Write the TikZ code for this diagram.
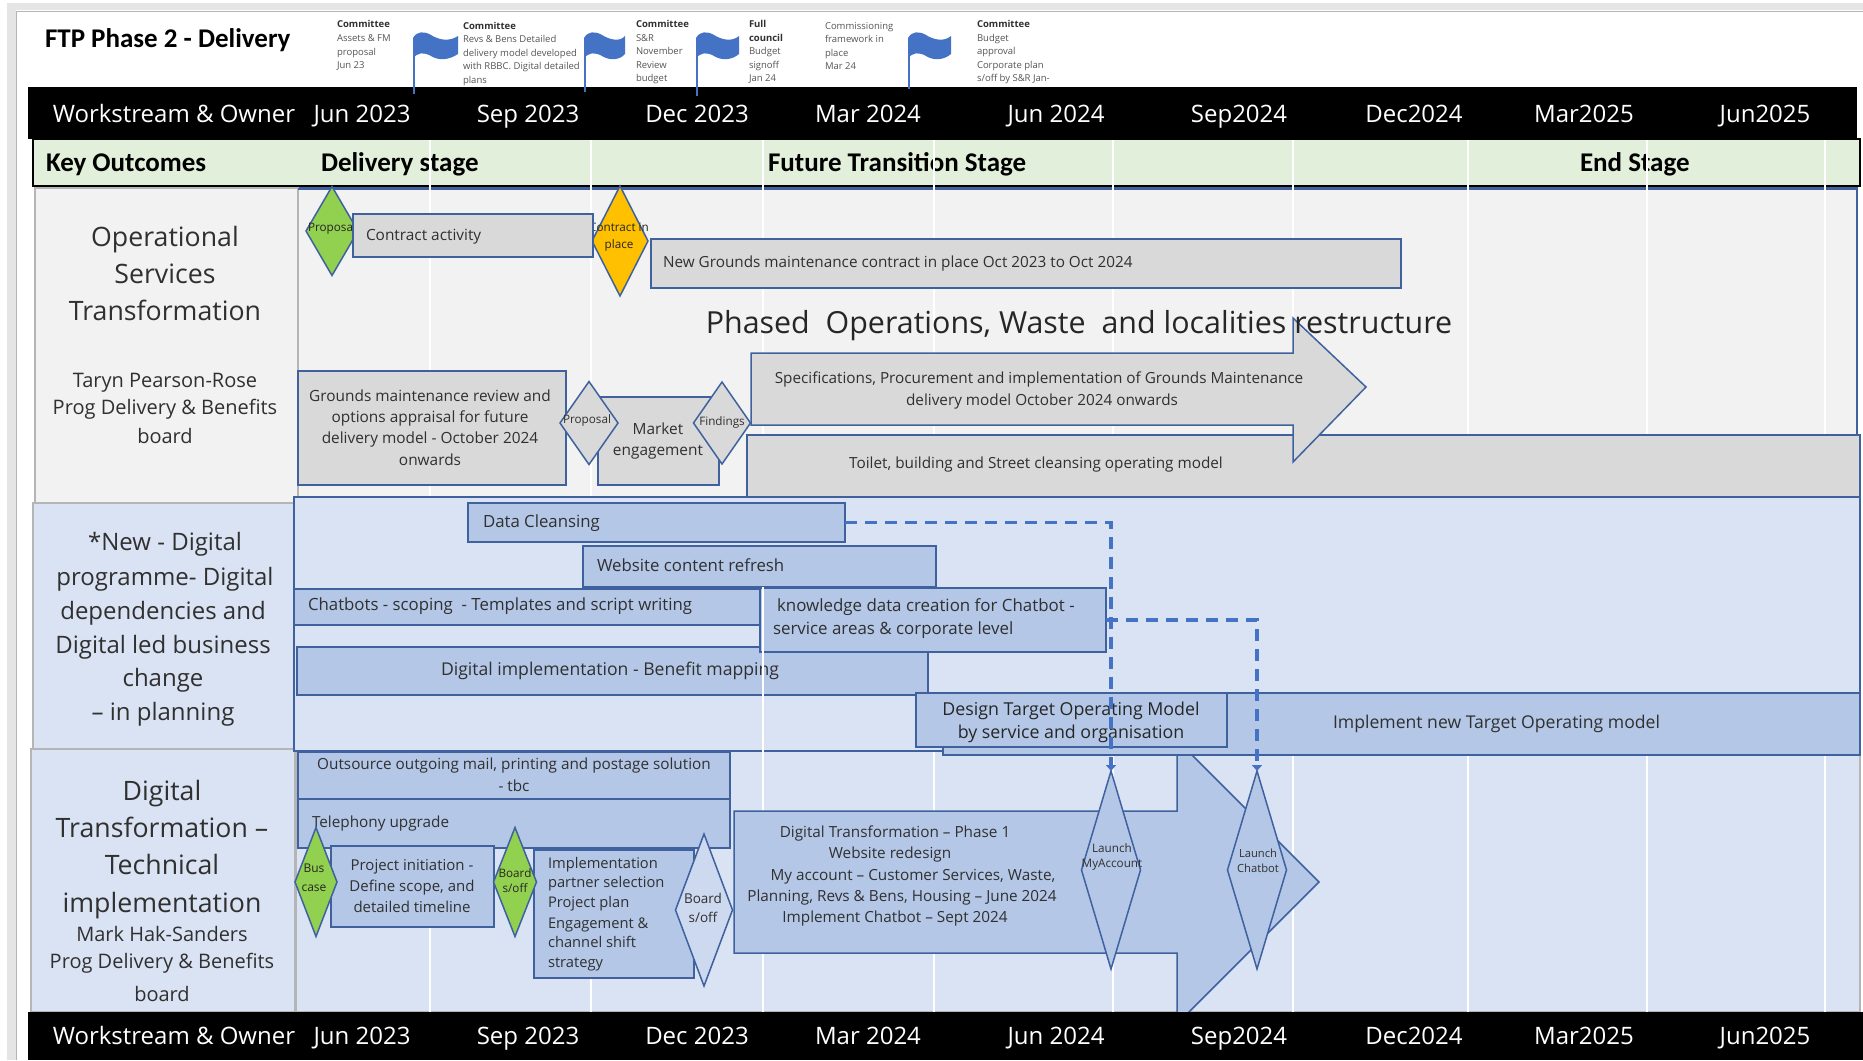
\documentclass[tikz,border=0pt]{standalone}
\usepackage{fontspec}
\setmainfont{Open Sans}
\newfontfamily\calfont{Carlito}
\usetikzlibrary{shapes.geometric,arrows.meta,calc}
\definecolor{edgeblue}{HTML}{3F629F}
\definecolor{boxblue}{HTML}{B4C7E7}
\definecolor{paleblue}{HTML}{DAE3F3}
\definecolor{boxgrey}{HTML}{D9D9D9}
\definecolor{palegrey}{HTML}{F2F2F2}
\definecolor{bandgreen}{HTML}{E2EFDA}
\definecolor{leafgreen}{HTML}{92D050}
\definecolor{amber}{HTML}{FFC000}
\definecolor{flagblue}{HTML}{4472C4}
\definecolor{inktext}{HTML}{303030}
\definecolor{notetext}{HTML}{555555}
\definecolor{cellline}{HTML}{B5B5B5}
\newcount\txn
\newcommand{\fs}[1]{\fontsize{#1}{#1}\selectfont}
% centred text: x,y,size,text
\newcommand{\tc}[4]{\global\advance\txn by 1 \node[txt,anchor=base] (t\the\txn) at (#1,{#2+0.34*#3}) {\fs{#3}#4};}
% left aligned text
\newcommand{\tl}[4]{\global\advance\txn by 1 \node[txt,anchor=base west] (t\the\txn) at (#1,{#2+0.34*#3}) {\fs{#3}#4};}
% box: name,x1,y1,x2,y2,style
\newcommand{\bx}[6]{\node[#6,anchor=north west,minimum width={(#4)*1pt-(#2)*1pt},minimum height={(#5)*1pt-(#3)*1pt}] (#1) at (#2,#3) {};}
% diamond: name,cx,cy,w,h,fill
\newcommand{\dm}[6]{\node[gem,fill=#6,minimum width=#4pt,minimum height=#5pt] (#1) at (#2,#3) {};}
% flag: pole x, pole bottom y, top offset
\newcommand{\flagat}[3]{%
\draw[flagblue,line width=1.3pt] (#1,38) -- (#1,#2);
\fill[flagblue] (#1-1,38) .. controls (#1+3,31) and (#1+10,31) .. (#1+17,35)
  .. controls (#1+25,40) and (#1+35,42) .. (#1+#3,36) -- (#1+#3,54)
  .. controls (#1+35,60) and (#1+25,61) .. (#1+17,56)
  .. controls (#1+10,52) and (#1+3,52) .. (#1-1,59) -- cycle;}
\tikzset{
 x=1pt,y=-1pt,
 txt/.style={inner sep=0pt,outer sep=0pt,text=inktext,align=center},
 box/.style={draw=edgeblue,line width=1.5pt,fill=boxblue,inner sep=0pt,outer sep=0pt,rectangle},
 gbox/.style={box,fill=boxgrey},
 panel/.style={rectangle,draw=edgeblue,line width=1.3pt,inner sep=0pt,outer sep=0pt},
 cell/.style={rectangle,draw=cellline,line width=1.5pt,inner sep=0pt,outer sep=0pt},
 gem/.style={diamond,draw=edgeblue,line width=1.5pt,inner sep=0pt,outer sep=0pt,aspect=1},
 gridl/.style={draw=white,line width=1.5pt},
 dep/.style={draw=flagblue,line width=3.2pt,dash pattern=on 12pt off 8pt,-{Triangle[width=10pt,length=6pt]}},
 band/.style={rectangle,fill=black,inner sep=0pt,outer sep=0pt},
}
\begin{document}
\begin{tikzpicture}
\useasboundingbox (0,0) rectangle (1863,1060);
\fill[white] (0,0) rectangle (1863,1060);
% window chrome
\fill[black!10] (14,3) rectangle (1863,10);
\fill[black!10] (7,3) rectangle (16,1060);
\draw[cellline,line width=1pt] (16,11) -- (1863,11);
\draw[cellline,line width=1pt] (16,11) -- (16,1060);
% row panels
\bx{panelA}{298}{188}{1857}{497}{panel,fill=palegrey}
\bx{cellA}{35}{188}{298}{503}{cell,fill=palegrey}
\bx{cellC}{31}{749}{295}{1012}{cell,fill=paleblue}
\bx{panelC}{296}{751}{1860}{1012}{cell,fill=paleblue}
% title
\tl{45}{38}{27}{\calfont\bfseries\color{black} FTP Phase 2 - Delivery}
% committee notes
\tl{337}{24}{9.5}{\bfseries Committee}
\tl{337}{38}{9.5}{\color{notetext}Assets \& FM}
\tl{337}{52}{9.5}{\color{notetext}proposal}
\tl{337}{65}{9.5}{\color{notetext}Jun 23}
\tl{463}{26}{9.5}{\bfseries Committee}
\tl{463}{39}{9.5}{\color{notetext}Revs \& Bens Detailed}
\tl{463}{53}{9.5}{\color{notetext}delivery model developed}
\tl{463}{66}{9.5}{\color{notetext}with RBBC. Digital detailed}
\tl{463}{80}{9.5}{\color{notetext}plans}
\tl{636}{24}{9.5}{\bfseries Committee}
\tl{636}{38}{9.5}{\color{notetext}S\&R}
\tl{636}{51}{9.5}{\color{notetext}November}
\tl{636}{65}{9.5}{\color{notetext}Review}
\tl{636}{78}{9.5}{\color{notetext}budget}
\tl{749}{24}{9.5}{\bfseries Full}
\tl{749}{38}{9.5}{\bfseries council}
\tl{749}{51}{9.5}{\color{notetext}Budget}
\tl{749}{65}{9.5}{\color{notetext}signoff}
\tl{749}{78}{9.5}{\color{notetext}Jan 24}
\tl{825}{26}{9.5}{\color{notetext}Commissioning}
\tl{825}{39}{9.5}{\color{notetext}framework in}
\tl{825}{53}{9.5}{\color{notetext}place}
\tl{825}{66}{9.5}{\color{notetext}Mar 24}
\tl{977}{24}{9.5}{\bfseries Committee}
\tl{977}{38}{9.5}{\color{notetext}Budget}
\tl{977}{51}{9.5}{\color{notetext}approval}
\tl{977}{65}{9.5}{\color{notetext}Corporate plan}
\tl{977}{78}{9.5}{\color{notetext}s/off by S\&R Jan-}
% top black band
\bx{topband}{28}{87}{1857}{139}{band}
% flags
\flagat{414}{94}{44}
\flagat{585}{92}{40}
\flagat{697}{96}{42}
\flagat{909}{89}{42}
% green band
\bx{greenband}{33}{139}{1860}{186}{rectangle,draw=black,line width=1.6pt,fill=bandgreen,inner sep=0pt,outer sep=0pt}
\draw[edgeblue,line width=1.4pt] (298,189) -- (1857,189);
\tl{46}{162}{27}{\calfont\bfseries\color{black} Key Outcomes}
\tl{321}{162}{27}{\calfont\bfseries\color{black} Delivery stage}
\tl{768}{162}{27}{\calfont\bfseries\color{black} Future Transition Stage}
\tl{1580}{162}{27}{\calfont\bfseries\color{black} End Stage}
% grid
\foreach \gx in {430,591,763,934,1113,1293,1468,1647,1825}{\draw[gridl] (\gx,140) -- (\gx,1012);}
% digital row
\bx{cellB}{33}{503}{294}{749}{cell,fill=paleblue}
\bx{panelB}{294}{497}{1860}{751}{panel,fill=paleblue}
% header labels
\tc{174}{114}{24}{\color{white}Workstream \& Owner}
\tc{362}{114}{24}{\color{white}Jun 2023}
\tc{528}{114}{24}{\color{white}Sep 2023}
\tc{697}{114}{24}{\color{white}Dec 2023}
\tc{868}{114}{24}{\color{white}Mar 2024}
\tc{1056}{114}{24}{\color{white}Jun 2024}
\tc{1239}{114}{24}{\color{white}Sep2024}
\tc{1414}{114}{24}{\color{white}Dec2024}
\tc{1584}{114}{24}{\color{white}Mar2025}
\tc{1765}{114}{24}{\color{white}Jun2025}
% left cell text
\tc{165}{237}{26.7}{Operational}
\tc{165}{274}{26.7}{Services}
\tc{165}{311}{26.7}{Transformation}
\tc{165}{381}{20}{Taryn Pearson-Rose}
\tc{165}{408}{20}{Prog Delivery \& Benefits}
\tc{165}{437}{20}{board}
\tc{165}{542}{24}{*New - Digital}
\tc{165}{577}{24}{programme- Digital}
\tc{163}{611}{24}{dependencies and}
\tc{163}{645}{24}{Digital led business}
\tc{163}{678}{24}{change}
\tc{163}{712}{24}{– in planning}
\tc{162}{791}{26.7}{Digital}
\tc{162}{828}{26.7}{Transformation –}
\tc{162}{865}{26.7}{Technical}
\tc{162}{903}{26.7}{implementation}
\tc{162}{935}{20}{Mark Hak-Sanders}
\tc{162}{962}{20}{Prog Delivery \& Benefits}
\tc{162}{995}{20}{board}
% operational row
\dm{propA}{332}{231}{52}{89}{leafgreen}
\tc{332}{228}{11.7}{\color{black!85}Proposal}
\dm{place}{620}{241}{56}{110}{amber}
\tc{619}{228}{11.7}{\color{black!85}Contract in}
\tc{619}{245}{11.7}{\color{black!85}place}
\bx{contract}{353}{214}{593}{257}{gbox}
\tl{366}{235}{15.4}{Contract activity}
\bx{newgm}{651}{239}{1401}{288}{gbox}
\tl{663}{262}{15.3}{New Grounds maintenance contract in place Oct 2023 to Oct 2024}
\bx{toilet}{747}{435}{1860}{497}{gbox}
\tc{1036}{463}{15.3}{Toilet, building and Street cleansing operating model}
\path[draw=edgeblue,line width=1.5pt,fill=boxgrey] (751,353) -- (1293,353) -- (1293,318) -- (1366,387) -- (1293,462) -- (1293,425) -- (751,425) -- cycle;
\tc{1039}{378}{15.3}{Specifications, Procurement and implementation of Grounds Maintenance}
\tc{1042}{400}{15.3}{delivery model October 2024 onwards}
\tc{1079}{323}{30.4}{\color{black!85}Phased\ \ Operations, Waste\ \ and localities restructure}
\bx{review}{298}{371}{566}{485}{gbox}
\tc{430}{396}{15.4}{Grounds maintenance review and}
\tc{430}{417}{15.4}{options appraisal for future}
\tc{430}{438}{15.4}{delivery model - October 2024}
\tc{430}{460}{15.4}{onwards}
\bx{market}{598}{397}{719}{485}{gbox}
\tc{658}{429}{15.4}{Market}
\tc{658}{450}{15.4}{engagement}
\dm{propB}{589}{423}{58}{83}{boxgrey}
\tc{587}{420}{11.7}{Proposal}
\dm{find}{722}{423}{57}{82}{boxgrey}
\tc{722}{422}{11.7}{Findings}
% technical row
\path[draw=edgeblue,line width=1.5pt,fill=boxblue] (734,811) -- (1177,811) -- (1177,740) -- (1319,882) -- (1177,1024) -- (1177,953) -- (734,953) -- cycle;
\tc{895}{832}{15.3}{Digital Transformation – Phase 1}
\tc{890}{853}{15.3}{Website redesign}
\tc{913}{875}{15.3}{My account – Customer Services, Waste,}
\tc{902}{896}{15.3}{Planning, Revs \& Bens, Housing – June 2024}
\tc{895}{917}{15.3}{Implement Chatbot – Sept 2024}
\bx{outs}{298}{752}{730}{799}{box}
\tc{514}{764}{15.3}{Outsource outgoing mail, printing and postage solution}
\tc{514}{786}{15.3}{- tbc}
\bx{tele}{298}{799}{730}{848}{box}
\tl{312}{822}{15.3}{Telephony upgrade}
\bx{init}{331}{846}{494}{927}{box}
\tc{412}{865}{15}{Project initiation -}
\tc{412}{886}{15}{Define scope, and}
\tc{412}{907}{15}{detailed timeline}
\dm{bus}{316}{882}{42}{109}{leafgreen}
\tc{314}{868}{12}{\color{black!85}Bus}
\tc{314}{887}{12}{\color{black!85}case}
\bx{impl}{534}{850}{694}{978}{box}
\dm{brd}{515}{882}{43}{109}{leafgreen}
\tc{515}{874}{11.7}{\color{black!85}Board}
\tc{515}{889}{11.7}{\color{black!85}s/off}
\tl{548}{863}{14.7}{Implementation}
\tl{548}{882}{14.7}{partner selection}
\tl{548}{902}{14.7}{Project plan}
\tl{548}{923}{14.7}{Engagement \&}
\tl{548}{942}{14.7}{channel shift}
\tl{548}{962}{14.7}{strategy}
\dm{brd2}{704}{910}{57}{152}{boxblue!35!paleblue}
\tc{703}{899}{13.5}{Board}
\tc{703}{918}{13.5}{s/off}
% digital row boxes
\bx{clean}{468}{503}{845}{542}{box}
\tl{483}{522}{16.8}{Data Cleansing}
\bx{site}{583}{546}{936}{587}{box}
\tl{597}{566}{16.8}{Website content refresh}
\bx{chat}{294}{589}{762}{625}{box}
\tl{308}{605}{16.8}{Chatbots - scoping\ \ - Templates and script writing}
\bx{impg}{297}{647}{928}{695}{box}
\tl{441}{670}{17.6}{Digital implementation - Benefit mapping}
\bx{know}{760}{588}{1106}{652}{box}
\tl{777}{606}{16.9}{knowledge data creation for Chatbot -}
\tl{773}{629}{16.9}{service areas \& corporate level}
\draw[gridl] (763,587) -- (763,752);
\bx{tomnew}{943}{693}{1860}{755}{box}
\tl{1333}{723}{17.6}{Implement new Target Operating model}
\bx{tomdes}{916}{693}{1227}{747}{box}
\tc{1071}{709}{17.8}{\color{black!85}Design Target Operating Model}
\tc{1071}{732}{17.8}{\color{black!85}by service and organisation}
% launches
\dm{lmy}{1111}{870}{59}{198}{boxblue}
\tc{1112}{849}{11.7}{Launch}
\tc{1112}{864}{11.7}{MyAccount}
\dm{lchat}{1257}{870}{59}{198}{boxblue}
\tc{1258}{854}{11.2}{Launch}
\tc{1258}{869}{11.2}{Chatbot}
% dependencies
\draw[dep] (clean.east) -| (lmy.north);
\draw[dep] (know.east) -| (lchat.north);
% bottom band
\bx{botband}{28}{1012}{1863}{1060}{band}
\tc{174}{1036}{24}{\color{white}Workstream \& Owner}
\tc{362}{1036}{24}{\color{white}Jun 2023}
\tc{528}{1036}{24}{\color{white}Sep 2023}
\tc{697}{1036}{24}{\color{white}Dec 2023}
\tc{868}{1036}{24}{\color{white}Mar 2024}
\tc{1056}{1036}{24}{\color{white}Jun 2024}
\tc{1239}{1036}{24}{\color{white}Sep2024}
\tc{1414}{1036}{24}{\color{white}Dec2024}
\tc{1584}{1036}{24}{\color{white}Mar2025}
\tc{1765}{1036}{24}{\color{white}Jun2025}
\end{tikzpicture}
\end{document}
